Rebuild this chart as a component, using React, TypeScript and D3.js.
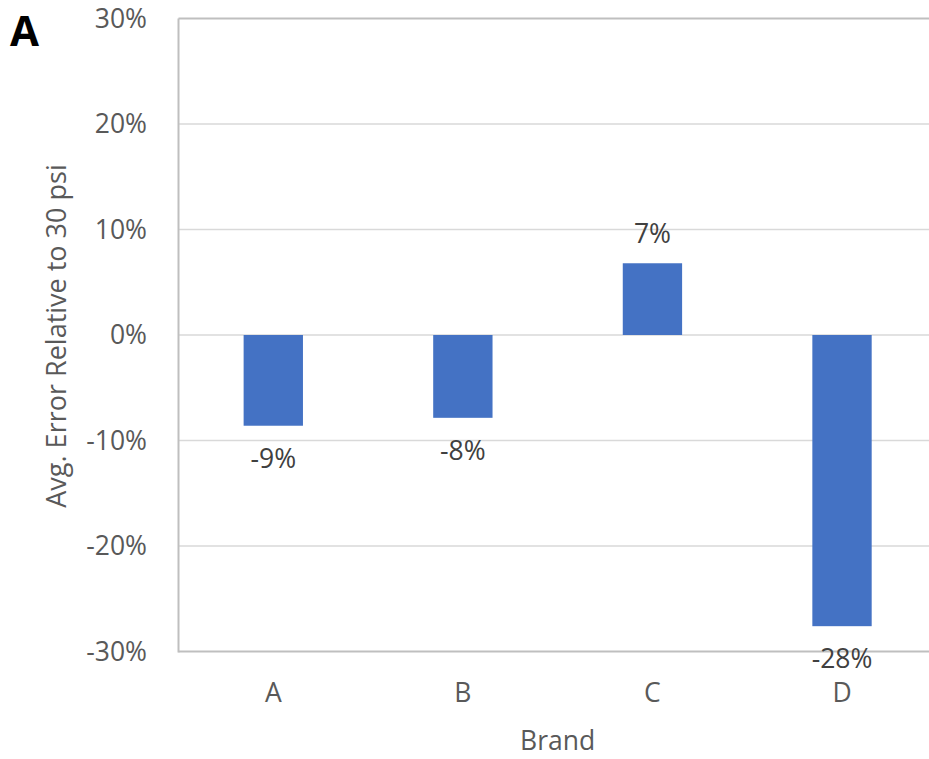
import React from "react";
import * as d3 from "d3";

const categories = ["A", "B", "C", "D"];
const values = [-0.086, -0.0785, 0.068, -0.276];
const labels = ["-9%", "-8%", "7%", "-28%"];
const yTicks = [-0.3, -0.2, -0.1, 0, 0.1, 0.2, 0.3];
const yTitle = "Avg. Error Relative to 30 psi";
const xTitle = "Brand";
const panelLetter = "A";

const W = 929;
const H = 759;
const left = 178.5;
const right = 936.8;
const top = 18.5;
const bottom = 651.5;
const FONT = "'Open Sans', 'Segoe UI', sans-serif";

export default function App() {
  const x = d3.scaleBand<string>().domain(categories).range([left, right]).paddingInner(0.687).paddingOuter(0.3435);
  const y = d3.scaleLinear().domain([-0.3, 0.3]).range([bottom, top]);
  const fmt = (t: number) => d3.format(".0%")(t).replace("\u2212", "-");
  return (
    <svg width={W} height={H} style={{ position: "absolute", left: 0, top: 0, background: "#fff" }}>
      {yTicks.map((t) => (
        <line key={"g" + t} x1={left} x2={W} y1={y(t)} y2={y(t)}
          stroke={t === 0.3 || t === -0.3 ? "#bfbfbf" : "#d9d9d9"} strokeWidth={t === 0.3 || t === -0.3 ? 2 : 1.5} />
      ))}
      <line x1={left} x2={left} y1={top} y2={bottom + 1} stroke="#bfbfbf" strokeWidth={2} />
      {categories.map((c, i) => {
        const v = values[i];
        const y0 = y(0);
        const yv = y(v);
        return (
          <rect key={c} x={x(c)} width={x.bandwidth()} y={Math.min(y0, yv)} height={Math.abs(yv - y0)}
            fill="#4472c4" />
        );
      })}
      {categories.map((c, i) => {
        const v = values[i];
        const cx = (x(c) as number) + x.bandwidth() / 2;
        const ly = v < 0 ? y(v) + 42 : y(v) - 20;
        return (
          <text key={"l" + c} x={cx} y={ly} textAnchor="middle" fontFamily={FONT} fontSize={26.5} fill="#404040">
            {labels[i]}
          </text>
        );
      })}
      {yTicks.map((t) => (
        <text key={"t" + t} x={147} y={y(t)} dy="0.35em" textAnchor="end" fontFamily={FONT} fontSize={26.5} fill="#595959">
          {fmt(t)}
        </text>
      ))}
      {categories.map((c) => (
        <text key={"x" + c} x={(x(c) as number) + x.bandwidth() / 2} y={693} dy="0.35em" textAnchor="middle"
          fontFamily={FONT} fontSize={26.5} fill="#595959">
          {c}
        </text>
      ))}
      <text x={(left + right) / 2} y={741} dy="0.35em" textAnchor="middle" fontFamily={FONT} fontSize={26.5} fill="#595959">
        {xTitle}
      </text>
      <text transform={`translate(57,336) rotate(-90)`} textAnchor="middle" dy="0.35em" fontFamily={FONT} fontSize={27} fill="#595959">
        {yTitle}
      </text>
      <text x={10} y={46} fontFamily={FONT} fontSize={42} fontWeight="bold" fill="#000">
        {panelLetter}
      </text>
    </svg>
  );
}
